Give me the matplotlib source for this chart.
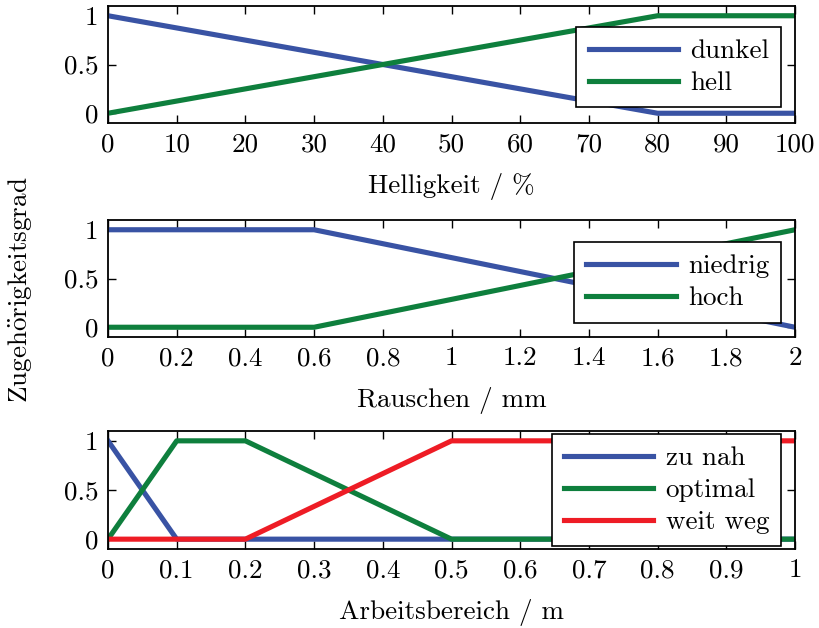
import matplotlib
matplotlib.use('Agg')
import matplotlib.pyplot as plt

plt.rcParams['font.family'] = ['cmr10', 'DejaVu Serif']
plt.rcParams['mathtext.fontset'] = 'cm'
plt.rcParams['axes.formatter.use_mathtext'] = True
plt.rcParams['font.size'] = 19.5

BLUE = '#3953a4'
GREEN = '#0e7f3d'
RED = '#ee1c25'

# Helligkeit
hell_x = [0, 80, 100]
dunkel_y = [1, 0, 0]
hell_y = [0, 1, 1]
hell_ticks = [0, 10, 20, 30, 40, 50, 60, 70, 80, 90, 100]

# Rauschen
rausch_x = [0, 0.6, 2]
niedrig_y = [1, 1, 0]
hoch_y = [0, 0, 1]
rausch_ticks = [0, 0.2, 0.4, 0.6, 0.8, 1, 1.2, 1.4, 1.6, 1.8, 2]

# Arbeitsbereich
nah_x = [0, 0.1, 1]
nah_y = [1, 0, 0]
opt_x = [0, 0.1, 0.2, 0.5, 1]
opt_y = [0, 1, 1, 0, 0]
weit_x = [0, 0.2, 0.5, 1]
weit_y = [0, 0, 1, 1]
arb_ticks = [0, 0.1, 0.2, 0.3, 0.4, 0.5, 0.6, 0.7, 0.8, 0.9, 1]

y_ticks = [0, 0.5, 1]

fig = plt.figure(figsize=(8.19, 6.28), dpi=100)
left, width = 108 / 819, 687 / 819
ax1 = fig.add_axes([left, 1 - 123 / 628, width, 117 / 628])
ax2 = fig.add_axes([left, 1 - 337 / 628, width, 117 / 628])
ax3 = fig.add_axes([left, 1 - 549 / 628, width, 118 / 628])

lw = 3.7
ax1.plot(hell_x, dunkel_y, color=BLUE, lw=lw, label='dunkel')
ax1.plot(hell_x, hell_y, color=GREEN, lw=lw, label='hell')
ax1.set_xlim(0, 100)
ax1.set_xticks(hell_ticks)
ax1.set_xlabel('Helligkeit / %')

ax2.plot(rausch_x, niedrig_y, color=BLUE, lw=lw, label='niedrig')
ax2.plot(rausch_x, hoch_y, color=GREEN, lw=lw, label='hoch')
ax2.set_xlim(0, 2)
ax2.set_xticks(rausch_ticks)
ax2.set_xlabel('Rauschen / mm')

ax3.plot(nah_x, nah_y, color=BLUE, lw=lw, label='zu nah')
ax3.plot(opt_x, opt_y, color=GREEN, lw=lw, label='optimal')
ax3.plot(weit_x, weit_y, color=RED, lw=lw, label='weit weg')
ax3.set_xlim(0, 1)
ax3.set_xticks(arb_ticks)
ax3.set_xlabel('Arbeitsbereich / m')

legend_pos = [(0.98, 0.82), (0.98, 0.81), (0.98, 0.975)]
for ax, ticks, pos in zip([ax1, ax2, ax3], [hell_ticks, rausch_ticks, arb_ticks], legend_pos):
    ax.set_ylim(-0.1, 1.1)
    ax.set_yticks(y_ticks)
    ax.set_yticklabels(['%g' % t for t in y_ticks])
    ax.set_xticklabels(['%g' % t for t in ticks])
    ax.tick_params(direction='in', top=True, right=True, length=6, width=1, pad=7)
    for s in ax.spines.values():
        s.set_linewidth(1.3)
    ax.xaxis.labelpad = 12
    leg = ax.legend(loc='upper right', bbox_to_anchor=pos, fancybox=False,
                    edgecolor='black', framealpha=1, handlelength=3.3,
                    handletextpad=0.45, borderaxespad=0, borderpad=0.45,
                    labelspacing=0.3)
    leg.get_frame().set_linewidth(1.2)

fig.text(0.025, 0.538, r'Zugeh$\ddot{\mathrm{o}}$rigkeitsgrad', rotation=90,
         va='center', ha='center', fontsize=19.5)

fig.savefig('out.png', dpi=100)
